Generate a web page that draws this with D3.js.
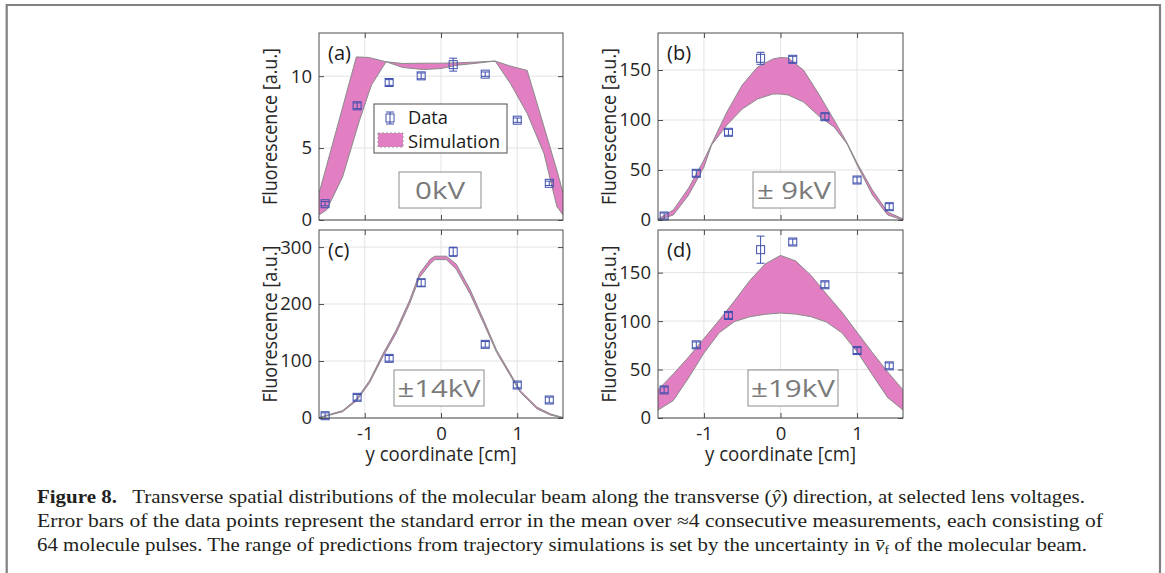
<!DOCTYPE html>
<html>
<head>
<meta charset="utf-8">
<script src="https://cdn.jsdelivr.net/npm/d3@7"></script>
<style>
  body { margin: 0; background: #fff; }
  svg { display: block; }
</style>
</head>
<body>
<svg id="fig" width="1165" height="573"></svg>
<script>
// measured positions (cm) of the data points, same in all panels
const xData = [-1.52, -1.1, -0.68, -0.26, 0.16, 0.58, 1.0, 1.42];

// panel (a) 0kV
const aData = [1.13, 7.94, 9.56, 10.02, 10.8, 10.14, 6.94, 2.55];
const aErr = [0.15, 0.2, 0.2, 0.2, 0.45, 0.15, 0.15, 0.15];
const aBandX = [-1.6, -1.5, -1.29, -1.11, -1.07, -0.95, -0.91, -0.72, -0.5, -0.23, 0, 0.21, 0.47, 0.71, 0.91, 1.13, 1.35, 1.52, 1.6];
const aUpper = [1.85, 3.78, 7.84, 11.34, 11.33, 11.3, 11.25, 11.0, 10.88, 10.9, 10.9, 10.93, 10.98, 11.05, 10.7, 10.4, 6.5, 3.45, 1.9];
const aLower = [0.35, 0.7, 3.0, 6.2, 6.9, 8.8, 9.4, 11.0, 10.6, 10.46, 10.53, 10.76, 10.9, 11.05, 9.49, 7.41, 4.63, 0.93, 0.35];

// panel (b) +-9kV
const bData = [4, 46.7, 87.7, 161.7, 160.7, 103.3, 40, 13.3];
const bErr = [3, 3, 3, 6, 3, 3, 3, 3];
const bBandX = [-1.6, -1.4, -1.2, -1.0, -0.9, -0.7, -0.5, -0.3, -0.1, 0, 0.1, 0.3, 0.5, 0.7, 0.87, 1.0, 1.2, 1.4, 1.6];
const bUpper = [1, 10, 32, 60, 76, 108, 135, 153, 161, 162.5, 162, 150, 126, 100, 77, 57, 30, 8, 1];
const bLower = [0, 5, 25, 53, 75, 95, 111, 121, 126, 126, 125, 118, 104, 93, 76, 55, 25, 5, 0];

// panel (c) +-14kV
const cData = [4, 36.3, 104.7, 237.4, 291.8, 129.3, 57.9, 31.6];
const cErr = [5, 5, 5, 6, 8, 5, 5, 5];
const cBandX = [-1.6, -1.29, -1.11, -0.94, -0.76, -0.59, -0.41, -0.28, -0.14, -0.08, 0.07, 0.2, 0.38, 0.56, 0.73, 0.91, 1.04, 1.26, 1.44, 1.6];
const cUpper = [1, 13, 33, 65, 113, 154, 207, 254, 279, 284, 284, 270, 226, 172, 119, 78, 48, 19, 7, 1];
const cLower = [0, 11, 30, 61, 108, 148, 201, 247, 271, 278, 278, 261, 218, 166, 115, 74, 45, 16, 5, 0];

// panel (d) +-19kV
const dData = [29, 75.5, 105.8, 173.7, 181.6, 137.5, 69.6, 53.8];
const dErr = [3, 3, 3, 14, 3, 3, 3, 3];
const dBandX = [-1.6, -1.4, -1.2, -1.0, -0.8, -0.6, -0.4, -0.2, 0, 0.2, 0.4, 0.6, 0.8, 1.0, 1.2, 1.4, 1.6];
const dUpper = [29, 45.5, 63, 82, 101, 121, 142, 159, 167.8, 162, 147, 128, 109.5, 88.5, 67.5, 47.5, 29];
const dLower = [8.2, 18, 41.5, 67, 88, 99.5, 104.5, 107, 108.3, 107.2, 104.5, 99, 88, 68.5, 44.5, 21, 8.2];

const xTicks = [-1, 0, 1];
const aTicks = [0, 5, 10];
const bTicks = [0, 50, 100, 150];
const cTicks = [0, 100, 200, 300];
const dTicks = [0, 50, 100, 150];

const panelLabels = ['(a)', '(b)', '(c)', '(d)'];
const voltLabels = ['0kV', '\u00B1 9kV', '\u00B114kV', '\u00B119kV'];
const yLabel = 'Fluorescence [a.u.]';
const xLabel = 'y coordinate [cm]';

const captionLines = [
    [{ t: 'Figure 8.', b: true }, { t: '\u2002 Transverse spatial distributions of the molecular beam along the transverse (' }, { t: '\u0177', i: true }, { t: ') direction, at selected lens voltages.' }],
    [{ t: 'Error bars of the data points represent the standard error in the mean over \u22484 consecutive measurements, each consisting of' }],
    [{ t: '64 molecule pulses. The range of predictions from trajectory simulations is set by the uncertainty in ' }, { t: 'v\u0304', i: true }, { t: 'f', sub: true }, { t: ' of the molecular beam.' }],
];

const pink = '#e17fc2';
const blue = '#3e4fad';
const sans = '"Open Sans", "DejaVu Sans", sans-serif';

const svg = d3.select('#fig');

// outer frame
svg.append('path')
    .attr('d', 'M6.7,573 V5 H1160 V573')
    .attr('fill', 'none')
    .attr('stroke', '#808080')
    .attr('stroke-width', 2.2);

const panels = [
    { left: 319, top: 33, w: 244, h: 187, ymax: 13, data: aData, err: aErr, bx: aBandX, up: aUpper, lo: aLower, ticks: aTicks, box: [399, 172, 82, 36], tw: 50, xlab: false },
    { left: 658, top: 33, w: 245, h: 187, ymax: 187, data: bData, err: bErr, bx: bBandX, up: bUpper, lo: bLower, ticks: bTicks, box: [753, 172, 82, 36], tw: 74, xlab: false },
    { left: 319, top: 230, w: 244, h: 188, ymax: 330, data: cData, err: cErr, bx: cBandX, up: cUpper, lo: cLower, ticks: cTicks, box: [394, 370, 90, 36], tw: 83, xlab: true },
    { left: 658, top: 230, w: 245, h: 188, ymax: 194, data: dData, err: dErr, bx: dBandX, up: dUpper, lo: dLower, ticks: dTicks, box: [748, 370, 90, 36], tw: 84, xlab: true },
];

panels.forEach((p, i) => {
    const g = svg.append('g').attr('transform', `translate(${p.left},${p.top})`);
    const x = d3.scaleLinear().domain([-1.6, 1.6]).range([0, p.w]);
    const y = d3.scaleLinear().domain([0, p.ymax]).range([p.h, 0]);

    const clipId = 'clip' + i;
    g.append('clipPath').attr('id', clipId)
        .append('rect').attr('width', p.w).attr('height', p.h);

    // grid
    g.selectAll('line.gx').data(xTicks).join('line')
        .attr('class', 'gx')
        .attr('x1', d => x(d)).attr('x2', d => x(d))
        .attr('y1', 0).attr('y2', p.h)
        .attr('stroke', '#e3e3e3');
    g.selectAll('line.gy').data(p.ticks).join('line')
        .attr('class', 'gy')
        .attr('x1', 0).attr('x2', p.w)
        .attr('y1', d => y(d)).attr('y2', d => y(d))
        .attr('stroke', '#e3e3e3');

    // simulation band
    const band = p.bx.map((v, k) => ({ x: v, lo: p.lo[k], up: p.up[k] }));
    const area = d3.area().x(d => x(d.x)).y0(d => y(d.lo)).y1(d => y(d.up));
    const clipped = g.append('g').attr('clip-path', `url(#${clipId})`);
    clipped.append('path').datum(band)
        .attr('d', area)
        .attr('fill', pink);
    ['up', 'lo'].forEach(k => {
        clipped.append('path').datum(band)
            .attr('d', d3.line().x(d => x(d.x)).y(d => y(d[k])))
            .attr('fill', 'none')
            .attr('stroke', '#8a8a8a')
            .attr('stroke-width', 1);
    });

    // data with error bars
    const pts = xData.map((v, k) => ({ x: v, y: p.data[k], e: p.err[k] }));
    const pg = g.selectAll('g.pt').data(pts).join('g')
        .attr('class', 'pt')
        .attr('transform', d => `translate(${x(d.x)},${y(d.y)})`)
        .attr('stroke', blue)
        .attr('fill', 'none')
        .attr('stroke-width', 1);
    pg.append('rect').attr('x', -4).attr('y', -4).attr('width', 8).attr('height', 8);
    pg.append('line').attr('y1', d => y(d.y + d.e) - y(d.y)).attr('y2', d => y(d.y - d.e) - y(d.y));
    pg.append('line').attr('x1', -4).attr('x2', 4)
        .attr('y1', d => y(d.y + d.e) - y(d.y)).attr('y2', d => y(d.y + d.e) - y(d.y));
    pg.append('line').attr('x1', -4).attr('x2', 4)
        .attr('y1', d => y(d.y - d.e) - y(d.y)).attr('y2', d => y(d.y - d.e) - y(d.y));

    // axes: ticks inside, box around
    const yAxis = g.append('g')
        .call(d3.axisLeft(y).tickValues(p.ticks).tickSize(-5).tickPadding(7).tickFormat(d3.format('d')));
    const yAxisR = g.append('g').attr('transform', `translate(${p.w},0)`)
        .call(d3.axisRight(y).tickValues(p.ticks).tickSize(-5).tickFormat(''));
    const xAxis = g.append('g').attr('transform', `translate(0,${p.h})`)
        .call(d3.axisBottom(x).tickValues(xTicks).tickSize(-5).tickPadding(9)
            .tickFormat(p.xlab ? (d => d < 0 ? '-' + Math.abs(d) : String(d)) : ''));
    const xAxisT = g.append('g')
        .call(d3.axisTop(x).tickValues(xTicks).tickSize(-5).tickFormat(''));
    [yAxis, yAxisR, xAxis, xAxisT].forEach(a => {
        a.select('.domain').remove();
        a.selectAll('line').attr('stroke', '#4d4d4d');
        a.selectAll('text').attr('font-family', sans).attr('font-size', 18.5).attr('fill', '#262626');
    });
    g.append('rect').attr('width', p.w).attr('height', p.h)
        .attr('fill', 'none').attr('stroke', '#4d4d4d').attr('stroke-width', 1);

    // y label
    g.append('text')
        .attr('transform', `translate(-42,${p.h / 2}) rotate(-90)`)
        .attr('text-anchor', 'middle')
        .attr('font-family', sans).attr('font-size', 20)
        .attr('fill', '#262626')
        .attr('textLength', 157).attr('lengthAdjust', 'spacingAndGlyphs')
        .text(yLabel);

    if (p.xlab) {
        g.append('text')
            .attr('x', p.w / 2).attr('y', p.h + 43)
            .attr('text-anchor', 'middle')
            .attr('font-family', sans).attr('font-size', 20)
            .attr('fill', '#262626')
            .attr('textLength', 151).attr('lengthAdjust', 'spacingAndGlyphs')
            .text(xLabel);
    }

    // panel label
    g.append('text')
        .attr('x', 9).attr('y', 27)
        .attr('font-family', sans).attr('font-size', 20)
        .attr('fill', '#1a1a1a')
        .text(panelLabels[i]);

    // voltage box
    const [bx, by, bw, bh] = p.box;
    svg.append('rect')
        .attr('x', bx).attr('y', by).attr('width', bw).attr('height', bh)
        .attr('fill', '#fff').attr('stroke', '#8c8c8c').attr('stroke-width', 1);
    svg.append('text')
        .attr('x', bx + bw / 2).attr('y', by + bh / 2 + 9)
        .attr('text-anchor', 'middle')
        .attr('font-family', sans).attr('font-size', 24)
        .attr('fill', '#7a7a7a')
        .attr('textLength', p.tw).attr('lengthAdjust', 'spacingAndGlyphs')
        .text(voltLabels[i]);
});

// legend in panel (a)
const lg = svg.append('g');
lg.append('rect').attr('x', 374).attr('y', 104).attr('width', 133).attr('height', 49)
    .attr('fill', '#fff').attr('stroke', '#4d4d4d').attr('stroke-width', 1);
const lm = lg.append('g').attr('transform', 'translate(390,118)')
    .attr('stroke', blue).attr('fill', 'none');
lm.append('rect').attr('x', -4).attr('y', -4).attr('width', 8).attr('height', 8);
lm.append('line').attr('y1', -6).attr('y2', 6);
lm.append('line').attr('x1', -4).attr('x2', 4).attr('y1', -6).attr('y2', -6);
lm.append('line').attr('x1', -4).attr('x2', 4).attr('y1', 6).attr('y2', 6);
lg.append('rect').attr('x', 378).attr('y', 133).attr('width', 25).attr('height', 14)
    .attr('fill', pink).attr('stroke', '#9a9a9a').attr('stroke-dasharray', '2,2');
lg.append('text').attr('x', 408).attr('y', 124)
    .attr('font-family', sans).attr('font-size', 19).attr('fill', '#1a1a1a')
    .attr('textLength', 40).attr('lengthAdjust', 'spacingAndGlyphs')
    .text('Data');
lg.append('text').attr('x', 408).attr('y', 148)
    .attr('font-family', sans).attr('font-size', 19).attr('fill', '#1a1a1a')
    .attr('textLength', 92).attr('lengthAdjust', 'spacingAndGlyphs')
    .text('Simulation');

// caption
const capY = [503, 527, 551];
const capW = [1048, 1066, 1050];
captionLines.forEach((line, i) => {
    const t = svg.append('text')
        .attr('x', 37).attr('y', capY[i])
        .attr('font-family', '"Liberation Serif", "DejaVu Serif", serif')
        .attr('font-size', 18)
        .attr('fill', '#231f20')
        .attr('textLength', capW[i]).attr('lengthAdjust', 'spacingAndGlyphs');
    const subAt = line.findIndex(q => q.sub);
    line.forEach((s, k) => {
        const ts = t.append('tspan').text(s.t);
        if (s.b) ts.attr('font-weight', 'bold');
        if (s.i) ts.attr('font-style', 'italic');
        if (s.sub) ts.attr('font-size', 12).attr('dy', 3);
        else if (subAt >= 0 && k === subAt + 1) ts.attr('dy', -3);
    });
});
</script>
</body>
</html>
